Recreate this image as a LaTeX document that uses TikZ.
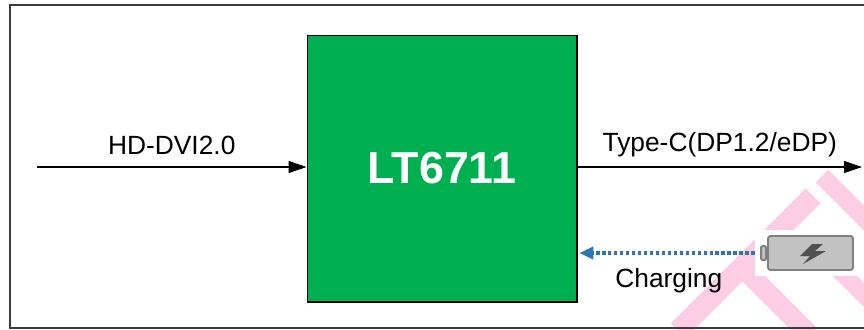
\documentclass[tikz,border=0pt]{standalone}
\usepackage{fontspec}
\setmainfont{Liberation Sans}
\usetikzlibrary{arrows.meta,positioning}
\definecolor{chipgreen}{HTML}{00B050}
\definecolor{chargeblue}{HTML}{2E75B6}
\definecolor{markpink}{HTML}{FDCDE5}
\definecolor{battfill}{HTML}{C2C2C2}
\definecolor{battline}{HTML}{808080}
\definecolor{boltgray}{HTML}{505050}
\definecolor{framegray}{HTML}{3C3C3C}

\begin{document}
\begin{tikzpicture}[x=0.02cm, y=0.02cm,
    sig/.style={-{Triangle[length=0.36cm,width=0.24cm]}, line width=0.6pt},
    charge/.style={-{Triangle[length=0.28cm,width=0.24cm]}, chargeblue, line width=1.9pt, dash pattern=on 2pt off 1.4pt},
    lbl/.style={font=\fontsize{15}{18}\selectfont, inner sep=0pt, text=black},
    stripe/.style={markpink, line cap=butt}]

            \clip (0,0) rectangle (864,329);

            % Watermark stripes
            \draw[stripe, line width=0.36cm] (822,153) -- (890,85);
            \draw[stripe, line width=0.42cm] (813,133) -- (678,-2);
            \draw[stripe, line width=0.40cm] (740,64) -- (810,-6);
            \draw[stripe, line width=0.34cm] (815,83) -- (880,18);

            % Outer frame
            \draw[framegray, line width=1pt] (10,324) rectangle (900,1);

            % LT6711 chip
            \node[draw, fill=chipgreen, line width=0.6pt, minimum width=5.4cm, minimum height=5.34cm,
                  text=white, font=\fontsize{25.5}{29}\selectfont\bfseries] (chip) at (442,160.5) {LT6711};

            % Video input and output
            \coordinate (hdin) at (37,162);
            \coordinate (tcout) at (862,162);
            \draw[sig] (hdin) -- (hdin -| chip.west) node[midway, above=6.8pt, lbl] {HD-DVI2.0};
            \draw[sig] (chip.east |- tcout) -- (tcout) node[midway, above=5.3pt, lbl] {Type-C(DP1.2/eDP)};

            % Battery
            \fill[white] (755,99) rectangle (858,53);
            \node[draw=battline, fill=battfill, line width=1.1pt, rounded corners=1.5pt,
                  minimum width=1.7cm, minimum height=0.68cm] (batt) at (810.5,76) {};
            \node[draw=battline, fill=battfill, line width=1.1pt, rounded corners=0.8pt,
                  minimum width=0.1cm, minimum height=0.28cm, inner sep=0pt, left=0pt of batt] (nub) {};
            \fill[boltgray, shift={(batt.center)}] (1.5,9) -- (12.5,9) -- (4.5,2) -- (15.5,2)
                  -- (-7.5,-11) -- (-0.5,-3) -- (-10.5,-3) -- cycle; % Lightning bolt

            % Charging path
            \draw[charge, shorten <=3pt, shorten >=1pt] (nub.west) -- (nub.west -| chip.east)
                  node[midway, below=7.8pt, lbl] {Charging};

        \end{tikzpicture}
\end{document}
